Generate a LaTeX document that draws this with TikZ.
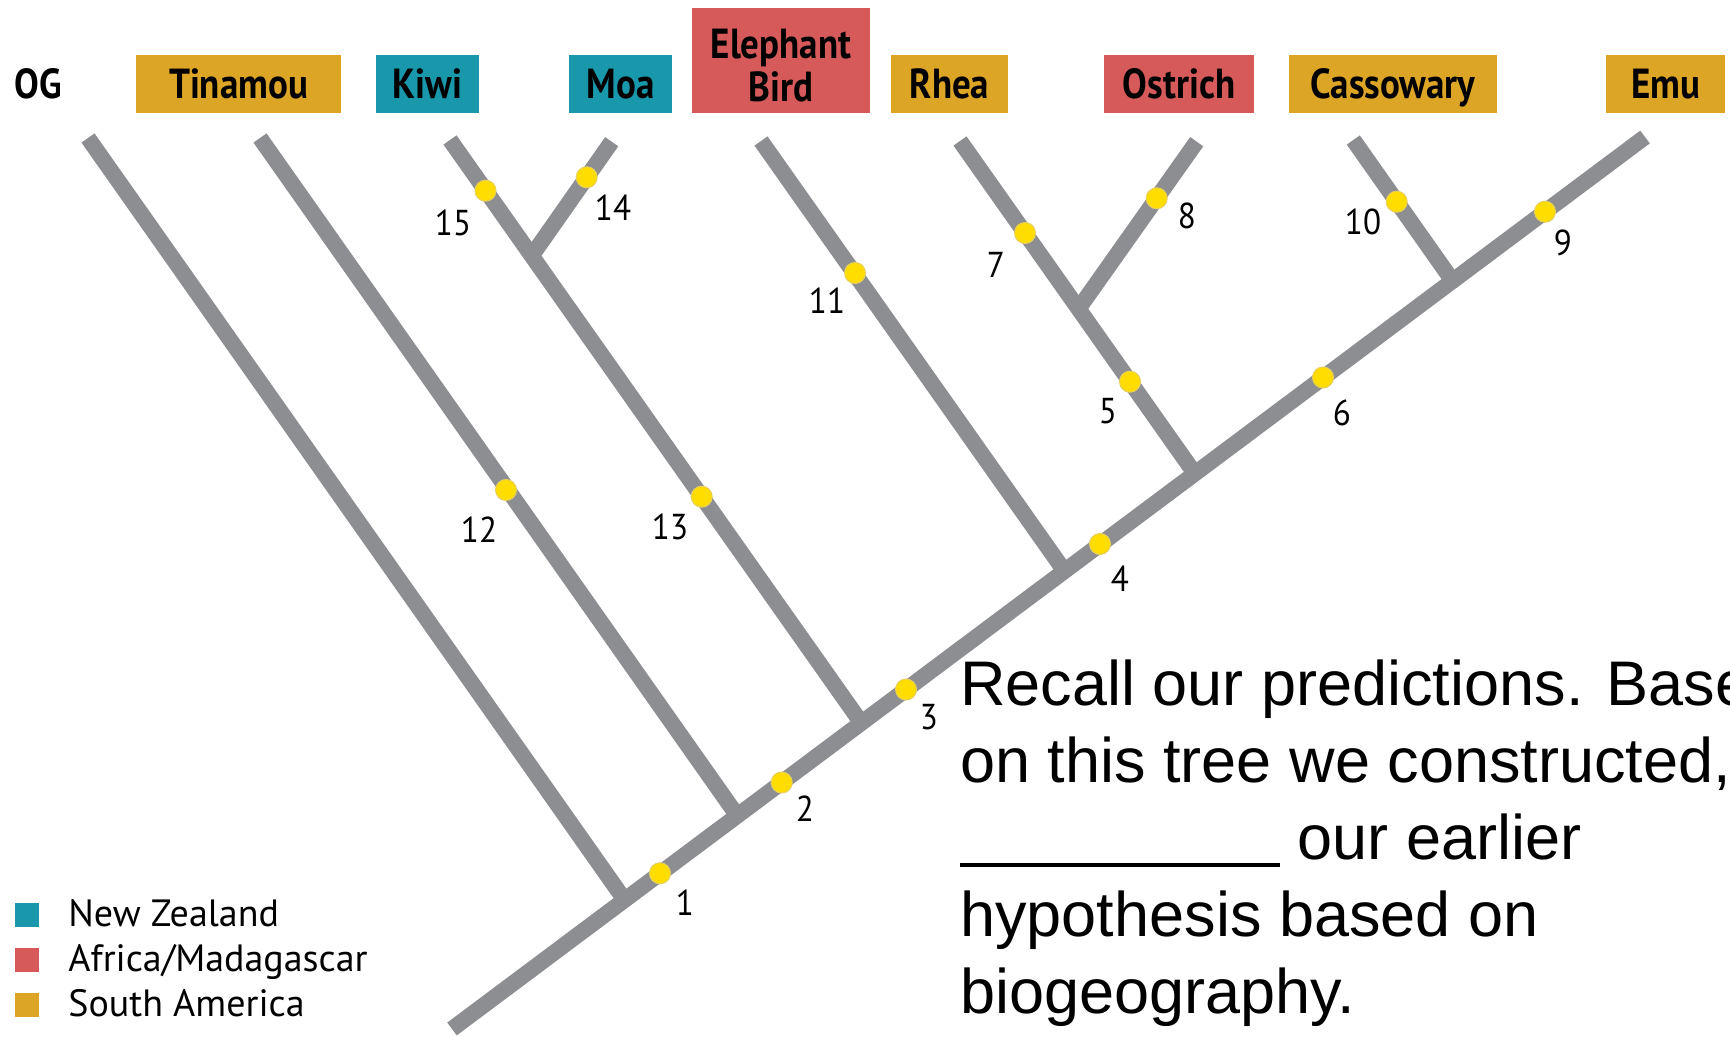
\documentclass[tikz,border=0pt]{standalone}
\usepackage{fontspec}
\setmainfont{Liberation Sans}
\newfontfamily\labfont[FakeStretch=0.88]{PT Sans}
\newfontfamily\numfont[FakeStretch=0.92]{PT Sans}
\newfontfamily\legfont{PT Sans}
\definecolor{treegray}{HTML}{8D8E92}
\definecolor{sagold}{HTML}{DDA525}
\definecolor{nzteal}{HTML}{1898AA}
\definecolor{afred}{HTML}{D65A5A}
\definecolor{dotyellow}{HTML}{FFDD00}
\definecolor{dotedge}{HTML}{E6CF5A}
\begin{document}
\begin{tikzpicture}[x=0.5pt,y=-0.5pt,
  branch/.style={draw=treegray,line width=8pt,line cap=butt},
  dot/.style={circle,fill=dotyellow,draw=dotedge,line width=0.5pt,minimum size=10.5pt,inner sep=0pt},
  num/.style={font=\numfont\fontsize{18}{18}\selectfont,inner sep=0pt,text height=12.6pt,text depth=0pt},
  taxon/.style={font=\labfont\bfseries\fontsize{21}{21.5}\selectfont,inner sep=0pt,minimum height=29pt,text height=14.7pt,text depth=0pt,text=black},
  sqkey/.style={minimum size=12pt,inner sep=0pt},
  legtext/.style={font=\legfont\fontsize{19}{19}\selectfont,inner sep=0pt,anchor=base west},
  qtext/.style={font=\fontsize{31.5}{38.5}\selectfont,align=left,inner sep=0pt,anchor=north west}]
\useasboundingbox (0,0) rectangle (1730,1037);
% coordinates of the tree
\coordinate (root) at (452,1029);
\coordinate (emutip) at (1645,137);
\coordinate (jog) at (624.5,899.8);
\coordinate (jtin) at (737.2,815.6);
\coordinate (jkm) at (861.3,722.8);
\coordinate (jeb) at (1064.4,571.0);
\coordinate (jro) at (1194.8,473.5);
\coordinate (jce) at (1452.5,280.8);
\coordinate (ogtip) at (88,138);
\coordinate (tintip) at (260,138);
\coordinate (kiwitip) at (450,140);
\coordinate (skm) at (531.7,255.8);
\coordinate (moatip) at (611.7,141.7);
\coordinate (ebtip) at (761,141);
\coordinate (rheatip) at (960,141);
\coordinate (sro) at (1078.5,308.8);
\coordinate (ostip) at (1196.7,141.7);
\coordinate (castip) at (1353.3,140);
% branches
\draw[branch] (jog) -- (ogtip);
\draw[branch] (jtin) -- (tintip);
\draw[branch] (jkm) -- (kiwitip);
\draw[branch] (skm) -- (moatip);
\draw[branch] (jeb) -- (ebtip);
\draw[branch] (jro) -- (rheatip);
\draw[branch] (sro) -- (ostip);
\draw[branch] (jce) -- (castip);
\draw[branch] (root) -- (emutip);
% character dots
\node[dot] (d1) at (660,873.3) {};
\node[dot] (d2) at (781.7,782.5) {};
\node[dot] (d3) at (906,689.5) {};
\node[dot] (d4) at (1100,544) {};
\node[dot] (d5) at (1130,381.7) {};
\node[dot] (d6) at (1323,377.5) {};
\node[dot] (d7) at (1025,233) {};
\node[dot] (d8) at (1156.7,198.3) {};
\node[dot] (d9) at (1545,211.7) {};
\node[dot] (d10) at (1396.7,201.7) {};
\node[dot] (d11) at (855,273) {};
\node[dot] (d12) at (506,490) {};
\node[dot] (d13) at (701.7,496.7) {};
\node[dot] (d14) at (586.7,177.3) {};
\node[dot] (d15) at (485.5,190.7) {};
% numbers
\node[num] (n1) at (685,903) {1};
\node[num] (n2) at (805,809) {2};
\node[num] (n3) at (929,717) {3};
\node[num] (n4) at (1120,579) {4};
\node[num] (n5) at (1108,411) {5};
\node[num] (n6) at (1342,413) {6};
\node[num] (n7) at (996,265) {7};
\node[num] (n8) at (1187,216) {8};
\node[num] (n9) at (1563,243) {9};
\node[num] (n10) at (1363,222) {10};
\node[num] (n11) at (827,301) {11};
\node[num] (n12) at (479,530) {12};
\node[num] (n13) at (670,527) {13};
\node[num] (n14) at (613,208) {14};
\node[num] (n15) at (453,223) {15};
% taxon labels
\node[taxon] (og) at (38.6,84) {OG};
\node[taxon,fill=sagold,minimum width=102.5pt] (tin) at (238.5,84) {Tinamou};
\node[taxon,fill=nzteal,minimum width=51.5pt] (kiwi) at (427.5,84) {Kiwi};
\node[taxon,fill=nzteal,minimum width=51.5pt] (moa) at (620.5,84) {Moa};
\node[fill=afred,minimum width=89pt,minimum height=52.5pt,inner sep=0pt,align=center,
      text height=41.1pt,text depth=0pt,
      font=\labfont\bfseries\fontsize{21}{21.5}\selectfont] (eb) at (781,60.5) {Elephant\\Bird};
\node[taxon,fill=sagold,minimum width=58.5pt] (rhea) at (949.5,84) {Rhea};
\node[taxon,fill=afred,minimum width=75pt] (ost) at (1179,84) {Ostrich};
\node[taxon,fill=sagold,minimum width=104pt] (cas) at (1393,84) {Cassowary};
\node[taxon,fill=sagold,minimum width=59.5pt] (emu) at (1665.5,84) {Emu};
% legend
\node[sqkey,fill=nzteal] (k1) at (27,914.5) {};
\node[sqkey,fill=afred] (k2) at (27,959.5) {};
\node[sqkey,fill=sagold] (k3) at (27,1004.7) {};
\node[legtext] (l1) at (68,926) {New Zealand};
\node[legtext] (l2) at (68,971.5) {Africa/Madagascar};
\node[legtext] (l3) at (68,1016.7) {South America};
% question
\node[qtext] (q) at (960,659) {Recall our predictions. Base\\on this tree we constructed,\\\rule[-4.1pt]{160pt}{2.2pt} our earlier\\hypothesis based on\\biogeography.};
\end{tikzpicture}
\end{document}
